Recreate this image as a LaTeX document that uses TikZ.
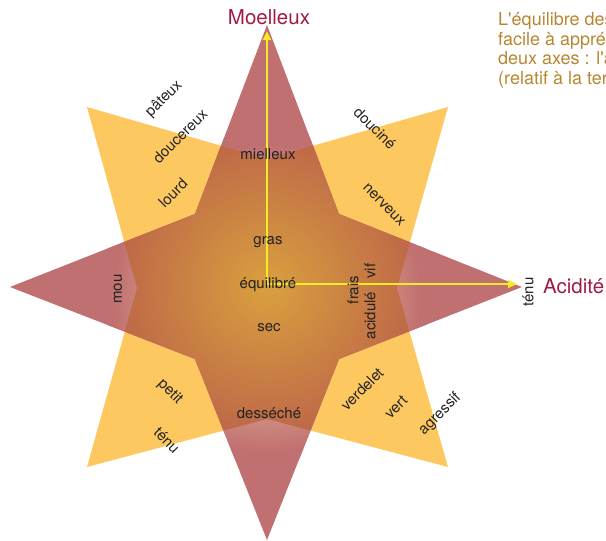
\documentclass[tikz,border=0pt]{standalone}
\usepackage{fontspec}
\setmainfont{TeX Gyre Heros}
\usetikzlibrary{arrows.meta}
\definecolor{star_yellow}{RGB}{253,200,96}
\definecolor{star_mauve}{RGB}{192,112,112}
\definecolor{glow_pink}{RGB}{204,136,126}
\definecolor{core_gold}{RGB}{217,160,62}
\definecolor{core_rust}{RGB}{190,104,72}
\definecolor{axis_yellow}{RGB}{245,236,40}
\definecolor{title_red}{RGB}{160,28,64}
\definecolor{note_brown}{RGB}{184,134,48}
\definecolor{word_gray}{RGB}{34,34,34}
\pgfdeclareradialshading{arm_glow}{\pgfpoint{0bp}{0bp}}{color(0bp)=(glow_pink); color(19.5bp)=(glow_pink); color(24bp)=(star_mauve); color(50bp)=(star_mauve)}
% straight apostrophe, kept out of the tex-text mapping
\newcommand\sq{\XeTeXglyph\XeTeXcharglyph"27\relax}

\begin{document}
\begin{tikzpicture}[x=1pt,y=-1pt,>={Triangle[length=9pt,width=8pt]}]
    \tikzstyle{word}=[text=word_gray,font=\fontsize{15}{18}\selectfont,inner sep=0pt]
    \tikzstyle{title}=[text=title_red,font=\fontsize{20.5}{24}\selectfont,inner sep=0pt]
    \tikzstyle{note}=[text=note_brown,font=\fontsize{18}{21}\selectfont,inner sep=0pt,anchor=base west]
    \tikzstyle{axis}=[->,draw=axis_yellow,line width=2.6pt]

    \def\diagstar{(87,107) -- (267,159) -- (448,107) -- (397,288) -- (448,467) -- (267,419) -- (87,467) -- (137,288) -- cycle}
    \def\crossstar{(267,25) -- (339,214) -- (522,287) -- (339,359) -- (267,540) -- (195,359) -- (10,287) -- (195,214) -- cycle}

    \useasboundingbox (0,0) rectangle (606,541);
    \clip (0,0) rectangle (606,541);

    % the two stars and their common core
    \fill[star_yellow] \diagstar;
    \fill[star_mauve] \crossstar;
    \begin{scope}
      \clip \crossstar;
      \shade[shading=arm_glow] (107,138) rectangle (427,458);
    \end{scope}
    \begin{scope}
      \clip \diagstar;
      \clip \crossstar;
      \shade[inner color=core_gold,outer color=core_rust] (267,286) circle (150);
    \end{scope}

    % axes
    \coordinate (origin)   at (267,284);
    \coordinate (moel_end) at (267,31);
    \coordinate (acid_end) at (517,284);
    \path
     (origin) edge[axis] (moel_end)
     (origin) edge[axis] (acid_end)
     ;

    \node[title,anchor=base]      (moel) at (269,24.5) {Moelleux};
    \node[title,anchor=base west] (acid) at (543,293)  {Acidité};

    \node[note] (note1) at (498,25)   {L\sq équilibre des};
    \node[note] (note2) at (498,45)   {facile à appré};
    \node[note] (note3) at (498,64.5) {deux axes : l\sq a};
    \node[note] (note4) at (498,84)   {(relatif à la ter};

    % vertical axis
    \node[word] (mielleux) at (268,154.5) {mielleux};
    \node[word] (gras)     at (268,242)   {gras};
    \node[word] (equil)    at (268,285)   {équilibré};
    \node[word] (sec)      at (269,327.5) {sec};
    \node[word] (desseche) at (269,413)   {desséché};

    % horizontal axis
    \node[word,rotate=90] (mou)     at (118,289)   {mou};
    \node[word,rotate=90] (frais)   at (353,290)   {frais};
    \node[word,rotate=90] (acidule) at (370,315.5) {acidulé};
    \node[word,rotate=90] (vif)     at (370,271)   {vif};
    \node[word,rotate=90] (tenu_r)  at (528,292)   {ténu};

    % diagonals
    \node[word,rotate=45]  (pateux)    at (164,99)  {pâteux};
    \node[word,rotate=45]  (doucereux) at (180,136) {doucereux};
    \node[word,rotate=45]  (lourd)     at (173,193) {lourd};
    \node[word,rotate=-45] (doucine)   at (375,128) {douciné};
    \node[word,rotate=-45] (nerveux)   at (384,205) {nerveux};
    \node[word,rotate=-45] (petit)     at (170,392) {petit};
    \node[word,rotate=-45] (tenu_l)    at (167,440) {ténu};
    \node[word,rotate=45]  (verdelet)  at (362,389) {verdelet};
    \node[word,rotate=45]  (vert)      at (396,407) {vert};
    \node[word,rotate=45]  (agressif)  at (440,414) {agressif};
\end{tikzpicture}
\end{document}
